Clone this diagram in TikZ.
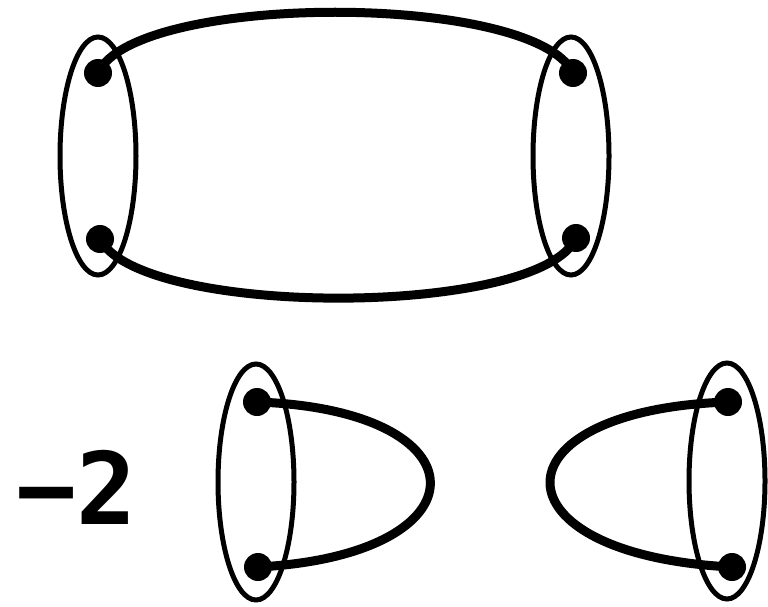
\documentclass[tikz,border=0pt]{standalone}
\usepackage{fontspec}
\newfontfamily\numfont{DejaVu Sans Mono}
\begin{document}
\begin{tikzpicture}[x=1pt,y=-1pt,
  dot/.style={circle,fill=black,inner sep=0pt,minimum size=28pt},
  ring/.style={line width=5pt},
  wire/.style={line width=9pt}]
\useasboundingbox (0,0) rectangle (768,607);
% top diagram
\draw[ring] (98,156) ellipse [x radius=38, y radius=119];
\draw[ring] (571,156) ellipse [x radius=38, y radius=119];
\node[dot] (a) at (98,73) {};
\node[dot] (b) at (100,239) {};
\node[dot] (c) at (573,73) {};
\node[dot] (d) at (576,238) {};
\draw[wire] (a.center) .. controls (135,-8) and (535,-8) .. (c.center);
\draw[wire] (b.center) .. controls (140,318) and (540,318) .. (d.center);
% bottom
\node[font=\numfont\bfseries\fontsize{100}{100}\selectfont,inner sep=0pt] (m) at (77,487) {−2};
\draw[ring] (256,482) ellipse [x radius=38, y radius=118];
\draw[ring] (727,481) ellipse [x radius=38, y radius=118];
\node[dot] (e) at (257,402) {};
\node[dot] (f) at (258,567) {};
\node[dot] (g) at (728,402) {};
\node[dot] (h) at (732,567) {};
\draw[wire] (e.center) .. controls (488,410) and (488,555) .. (f.center);
\draw[wire] (g.center) .. controls (490,410) and (490,555) .. (h.center);
\end{tikzpicture}
\end{document}
